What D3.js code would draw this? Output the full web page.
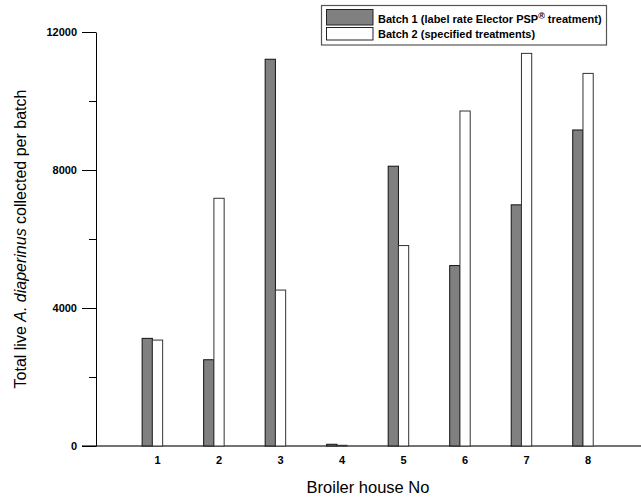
<!DOCTYPE html>
<html>
<head>
<meta charset="utf-8">
<script src="https://cdn.jsdelivr.net/npm/d3@7"></script>
<style>
  body { margin: 0; background: #fff; }
  svg { display: block; font-family: "Liberation Sans", Arial, sans-serif; }
</style>
</head>
<body>
<svg id="chart" width="641" height="500"></svg>
<script>
// ---- data ----
const houses = [1, 2, 3, 4, 5, 6, 7, 8];
const batch1 = [3120, 2500, 11210, 50, 8110, 5230, 6990, 9160];
const batch2 = [3070, 7180, 4520, 20, 5810, 9710, 11380, 10800];
const yTicks = [0, 4000, 8000, 12000];
const yMinorTicks = [2000, 6000, 10000];
const seriesNames = ["Batch 1 (label rate Elector PSP", "Batch 2 (specified treatments)"];

const svg = d3.select("#chart");

const x = d3.scaleLinear().domain([0, 8.86]).range([96, 641]);
const y = d3.scaleLinear().domain([0, 12000]).range([446, 32]);

const barW = 1 / 6;

// x axis baseline
svg.append("line")
  .attr("x1", 82).attr("x2", 641)
  .attr("y1", y(0)).attr("y2", y(0))
  .attr("stroke", "#444").attr("stroke-width", 1.3);

// bars batch 1
svg.selectAll("rect.b1").data(houses).enter().append("rect")
  .attr("class", "b1")
  .attr("x", (d) => x(d - 0.25))
  .attr("width", (d) => x(d - 0.25 + barW) - x(d - 0.25))
  .attr("y", (d, i) => y(batch1[i]))
  .attr("height", (d, i) => y(0) - y(batch1[i]))
  .attr("fill", "#808080").attr("stroke", "#111").attr("stroke-width", 1);

// bars batch 2
svg.selectAll("rect.b2").data(houses).enter().append("rect")
  .attr("class", "b2")
  .attr("x", (d) => x(d - 0.25 + barW))
  .attr("width", (d) => x(d - 0.25 + 2 * barW) - x(d - 0.25 + barW))
  .attr("y", (d, i) => y(batch2[i]))
  .attr("height", (d, i) => y(0) - y(batch2[i]))
  .attr("fill", "#fff").attr("stroke", "#333").attr("stroke-width", 1);

// y axis
const yAxis = d3.axisLeft(y).tickValues(yTicks).tickSize(14).tickSizeOuter(0).tickPadding(5)
  .tickFormat(d3.format("d"));
const gy = svg.append("g").attr("transform", `translate(${x(0)},0)`).call(yAxis);
gy.selectAll("text").attr("font-size", 11).attr("font-weight", "bold").attr("fill", "#000")
  .attr("font-family", "Liberation Sans, Arial, sans-serif");
gy.select(".domain").attr("stroke", "#000");
gy.selectAll(".tick line").attr("stroke", "#000");
const gyMinor = svg.append("g").attr("transform", `translate(${x(0)},0)`)
  .call(d3.axisLeft(y).tickValues(yMinorTicks).tickSize(7).tickSizeOuter(0).tickFormat(""));
gyMinor.select(".domain").remove();
gyMinor.selectAll(".tick line").attr("stroke", "#000");

// x tick labels
svg.selectAll("text.xt").data(houses).enter().append("text")
  .attr("class", "xt")
  .attr("x", (d) => x(d))
  .attr("y", 464)
  .attr("text-anchor", "middle")
  .attr("font-size", 11).attr("font-weight", "bold")
  .text((d) => d);

// axis titles
svg.append("text")
  .attr("x", 368).attr("y", 493)
  .attr("text-anchor", "middle").attr("font-size", 16.5)
  .text("Broiler house No");

const yt = svg.append("text")
  .attr("transform", `translate(26,${(y(0) + y(12000)) / 2}) rotate(-90)`)
  .attr("text-anchor", "middle").attr("font-size", 16);
yt.append("tspan").text("Total live ");
yt.append("tspan").attr("font-style", "italic").text("A. diaperinus");
yt.append("tspan").text(" collected per batch");

// legend
const lg = svg.append("g");
lg.append("rect").attr("x", 321.5).attr("y", 5.5).attr("width", 285).attr("height", 39.5)
  .attr("fill", "#fff").attr("stroke", "#555").attr("stroke-width", 1.2);
lg.append("rect").attr("x", 326.5).attr("y", 9.5).attr("width", 46.5).attr("height", 15.5)
  .attr("fill", "#808080").attr("stroke", "#222");
lg.append("rect").attr("x", 326.5).attr("y", 27.5).attr("width", 46.5).attr("height", 12.5)
  .attr("fill", "#fff").attr("stroke", "#222");
const t1 = lg.append("text").attr("x", 378).attr("y", 23).attr("font-size", 11).attr("font-weight", "bold");
t1.append("tspan").text(seriesNames[0]);
t1.append("tspan").attr("dy", -4).attr("font-size", 9).text("®");
t1.append("tspan").attr("dy", 4).text(" treatment)");
lg.append("text").attr("x", 378).attr("y", 37.5).attr("font-size", 11).attr("font-weight", "bold")
  .text(seriesNames[1]);
</script>
</body>
</html>
